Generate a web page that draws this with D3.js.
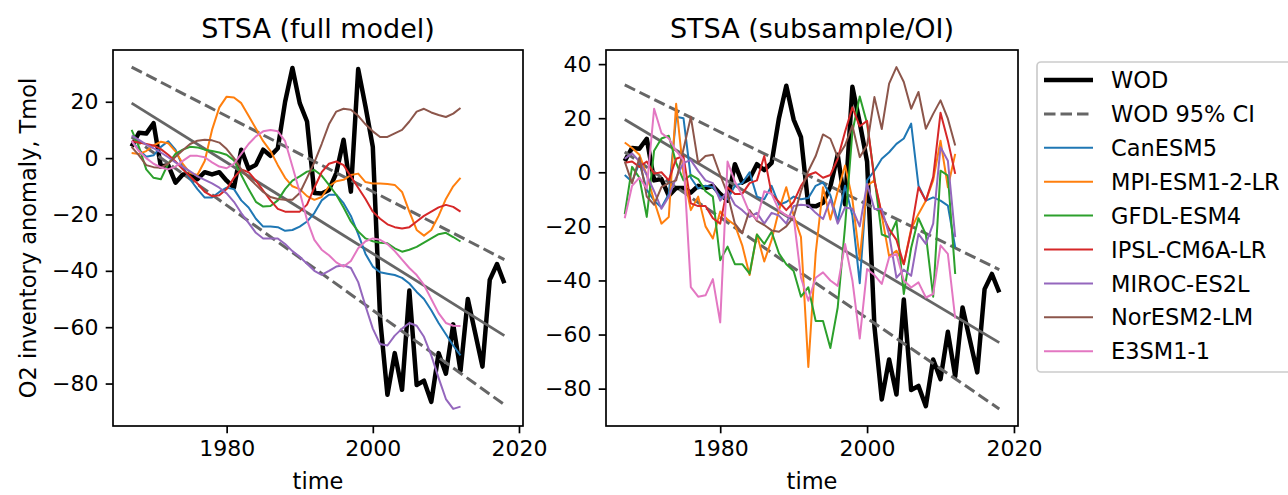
<!DOCTYPE html>
<html>
<head>
<meta charset="utf-8">
<script src="https://cdn.jsdelivr.net/npm/d3@7"></script>
<style>
  body { margin: 0; background: #fff; }
  text { font-family: "DejaVu Sans", sans-serif; fill: #000; }
</style>
</head>
<body>
<svg id="chart" width="1288" height="495"></svg>
<script>
// ---- data ----
const wodYears = d3.range(1967, 2019);
const modelYears = d3.range(1967, 2013);

const wod = [4.1, 9, 8.7, 12.4, -3, -2.5, -8.7, -5.8, -5.8, -7.5,
  -5, -5.8, -5, -8, -10.5, 3, -3.8, -2.4, 3, 0.8,
  3.5, 20, 32, 19.5, 13, -12.4, -12.6, -11.3, -5.3, 6.5,
  -11.9, 31.6, 18.3, 4, -57, -84, -69.2, -82.2, -47, -80.5,
  -79, -86.5, -69.2, -76.5, -59, -75.5, -50, -62, -74, -43.2,
  -37.6, -44.4];

// linear trend and its 95% CI (end points)
const trendYears = [1967, 2018];
const trend = [19.5, -63];
const ciUpper = [32.3, -36];
const ciLower = [7.5, -87.5];

const modelNames = ["CanESM5", "MPI-ESM1-2-LR", "GFDL-ESM4", "IPSL-CM6A-LR", "MIROC-ES2L", "NorESM2-LM", "E3SM1-1"];
const modelColors = ["#1f77b4", "#ff7f0e", "#2ca02c", "#d62728", "#9467bd", "#8c564b", "#e377c2"];

// full model
const fullCanESM5 = [6, 3, 0.5, 1, 4, 6, 3, -3, -7.5, -11, -14, -14, -12, -10.5, -11, -15, -17.5, -21.5, -24.3, -24.3,
  -24.5, -25.8, -25.5, -24.3, -22.5, -19.5, -15, -13, -13, -16, -20.5, -27, -34, -38.5, -40.5, -41, -41.5, -42.5, -44.5, -47.5,
  -50, -54, -58.5, -62.5, -66.5, -70];
const fullMPI = [1.8, 1.5, 2.5, 4.5, 5.8, 5.3, 2.4, -2, -5.3, -6, -1, 10, 18, 21.8, 21.5, 19.5, 15, 10.5, 6, 2.5,
  -2.5, -7, -10, -11, -13.5, -14.8, -13.8, -10, -8.2, -7.7, -6, -5.5, -8.5, -9, -9, -9.2, -9.5, -12, -19, -25.5,
  -27.5, -25.5, -20.5, -14.5, -10, -7];
const fullGFDL = [10, 4, -4, -7, -7.5, -2, 1.5, 3, 4, 3.8, 3, 2.5, 2, 1.2, -0.8, -6, -11, -15.5, -17.2, -17,
  -15, -11, -8, -6.5, -4.8, -4.2, -6.2, -9.5, -13, -17.5, -22.5, -26, -28.5, -29.5, -30, -30.2, -32, -33.2, -32.5, -31.5,
  -30, -28.5, -27, -26.5, -28, -29.6];
const fullIPSL = [6, 5.5, 5, 4.5, 3.2, 1.2, -1.2, -4, -6.5, -9, -12, -13.5, -13.2, -11, -7, -4, -5, -8, -11.5, -15,
  -18, -19, -19, -19, -16.5, -10.5, -5, -2, -1.2, -2.5, -6.5, -10.5, -14.5, -19, -21.5, -23.5, -24.5, -25, -24.5, -22.5,
  -20.5, -19, -17.5, -16.6, -17.3, -19];
const fullMIROC = [8, 6.5, 4.8, 3.5, 2, 0.3, -1.5, -3, -4.7, -6.5, -7.7, -9, -10.5, -12.5, -15.5, -19.5, -23, -26.5, -28.5, -28.5,
  -28.5, -30.5, -33, -35, -37.5, -40, -41.4, -40, -38.5, -38, -39, -44, -52.5, -60.5, -66, -66.5, -63, -60.5, -58.5, -59.5,
  -63.4, -70, -78, -85.5, -89, -88.2];
const fullNorESM = [4, 1, -2.5, -3.2, -3.4, -2, 0.5, 2.8, 5, 6.2, 6.5, 6.3, 5.5, 3.2, 0, -4, -7, -9.5, -12, -13.8,
  -14.5, -14.8, -14.8, -12.4, -7, -1.5, 5, 12, 16.5, 17.5, 17.2, 15, 12, 9.5, 7.5, 7.5, 8.8, 10, 13, 16.5,
  17.5, 16.2, 15.3, 14.6, 15.8, 17.8];
const fullE3SM = [6, 2.5, 0, -2, -3.3, -4, -3, -1, 0.8, 0.8, 0.3, -1.5, -3, -3.6, -2, 1.5, 5, 7.7, 9.5, 10,
  9.5, 6, -3, -12, -22, -29, -32.5, -34.5, -37, -38.5, -36.5, -32, -29.5, -28.5, -29, -30.5, -33, -36, -39, -41.5,
  -45, -50, -55, -58.5, -59.5, -59.6];

// subsample / OI
const subCanESM5 = [-1, -3.5, 3.5, -6.5, -10.5, -13, -8, 20.5, 20, -2, -6, -5, -5.5, -9, -10, -5, -4, 0, -9, -10,
  -5, -12, -11, -9, -10, -9.5, -5, -3.7, -8.5, -18, -5, -16, -41, -3, 0.6, 5, 7.4, 10.5, 12.5, 18,
  -5, -10.5, -9.3, -10.5, -12.3, -27.8];
const subMPI = [11, 9, 6.5, -1, -10.5, -19, -16.5, 25.3, -0.5, -14, -9, -20, -24.5, -14.5, -17.5, -19.5, -27, -38, -23, -33,
  -25, -14, -5.5, -16, -24, -72, -30, -5.5, -17.5, -7, 2.5, -10, -32, -5, -3, -16, -31, -29, -34, -21,
  -15.4, -10.5, -3, 11.7, -5.5, 6.8];
const subGFDL = [-15.5, 2, -2, -16.5, 8, 12.5, 13.5, 3.5, -3, -1, -2.5, -7, -9, -32.5, -27.5, -34, -34, -37.5, -23, -26.5,
  -22, -30, -34, -36.5, -46, -42.5, -55, -55, -65, -50, -20, 15, 28, 18, -2, -23, -24, -18, -45, -28,
  -17, -23, -46, 0.6, -1.2, -37.6];
const subIPSL = [3.5, 4, 2, 4, -0.5, 0, -3, 5, 6, -11.5, -12.5, -12.5, -17, -19, -5.5, -8, -8, -4, -3, 6,
  -8, -11, -14, -11, -5, -1, 0, -2, -1, 5, 15, 24, 17, 19, -3, -15.4, -21, -25, -34, -21.6,
  -5.5, -10.5, -1.8, 22, 11.7, -0.6];
const subMIROC = [5, 7, 4, -1, -7, -13.5, -9, -2, 3.5, 4.5, 0.5, -3, -4, -10.5, -7, -12, -14, -16.5, -15, -19,
  -15, -16, -19, -12.5, -12, -12.3, -15, -17.3, -10, -19, -13, -13.5, -20, -4.3, -13.6, -13.6, -23, -39, -36, -38.3,
  -22.8, -26.5, -19, 9.3, 4.3, -24];
const subNorESM = [4, -4, 5.5, -9, -12, -5.5, -4, -3, 8.5, 20.5, 3.5, 6, 6.5, -1, -8, -19, -22.5, -14, -18, -19.5,
  -21.5, -22, -20, -16.5, -7, 0.5, 6, 14, 12.4, 5.6, 10, 17.3, 5.6, 10, 27.8, 16, 32.8, 38.9, 33.4, 23.5,
  29.7, 16.1, 21.6, 26.6, 19.8, 9.9];
const subE3SM = [-17, -5, -2, -6, 23.5, 14.5, 12.5, 8, 4.5, -42.5, -46, -45.5, -39.5, -55.5, 4, -3.5, -8.5, -15, -17.5, -7,
  -8, -14, -16, -16.5, -39, -47.5, -39, -37, -40, -42, -26.5, -40, -61.5, -35.8, -38, -41.3, -31.5, -30.2, -40, -42.6,
  -40.7, -46.3, -45, -27, -30.2, -54];

const xTicks = [1980, 2000, 2020];
const yTicksFull = [-80, -60, -40, -20, 0, 20];
const yTicksSub = [-80, -60, -40, -20, 0, 20, 40];

// ---- layout ----
const plotTop = 50, plotBottom = 426;
const panels = [
  { title: "STSA (full model)", left: 113, right: 523, yTicks: yTicksFull,
    series: [fullCanESM5, fullMPI, fullGFDL, fullIPSL, fullMIROC, fullNorESM, fullE3SM] },
  { title: "STSA (subsample/OI)", left: 606, right: 1018, yTicks: yTicksSub,
    series: [subCanESM5, subMPI, subGFDL, subIPSL, subMIROC, subNorESM, subE3SM] }
];

const svg = d3.select("#chart");

// matplotlib style 5% margins
function padded(ext) {
  const p = (ext[1] - ext[0]) * 0.05;
  return [ext[0] - p, ext[1] + p];
}

const xDomain = padded(d3.extent(wodYears));
const fmt = d3.format("d");

panels.forEach((p, pi) => {
  const allVals = wod.concat(trend, ciUpper, ciLower, ...p.series);
  const x = d3.scaleLinear().domain(xDomain).range([p.left, p.right]);
  const y = d3.scaleLinear().domain(padded(d3.extent(allVals))).range([plotBottom, plotTop]);

  const line = d3.line().x(d => x(d[0])).y(d => y(d[1]));

  svg.append("clipPath").attr("id", "clip" + pi)
    .append("rect")
    .attr("x", p.left).attr("y", plotTop)
    .attr("width", p.right - p.left).attr("height", plotBottom - plotTop);

  const g = svg.append("g").attr("clip-path", `url(#clip${pi})`);

  // WOD observations
  g.append("path")
    .attr("d", line(wodYears.map((yr, i) => [yr, wod[i]])))
    .attr("fill", "none").attr("stroke", "#000")
    .attr("stroke-width", 4.5).attr("stroke-linejoin", "round");

  // CI lines
  [ciUpper, ciLower].forEach(ci => {
    g.append("path")
      .attr("d", line(trendYears.map((yr, i) => [yr, ci[i]])))
      .attr("fill", "none").attr("stroke", "#666")
      .attr("stroke-width", 3).attr("stroke-dasharray", "11.5,5");
  });

  // trend
  g.append("path")
    .attr("d", line(trendYears.map((yr, i) => [yr, trend[i]])))
    .attr("fill", "none").attr("stroke", "#666")
    .attr("stroke-width", 2.8);

  // models
  p.series.forEach((s, k) => {
    g.append("path")
      .attr("d", line(modelYears.map((yr, i) => [yr, s[i]])))
      .attr("fill", "none").attr("stroke", modelColors[k])
      .attr("stroke-width", 2).attr("stroke-linejoin", "round");
  });

  // axes
  const xAxis = svg.append("g")
    .attr("transform", `translate(0,${plotBottom})`)
    .call(d3.axisBottom(x).tickValues(xTicks).tickFormat(fmt)
      .tickSize(7.3).tickPadding(7.3).tickSizeOuter(0));
  const yAxis = svg.append("g")
    .attr("transform", `translate(${p.left},0)`)
    .call(d3.axisLeft(y).tickValues(p.yTicks).tickFormat(fmt)
      .tickSize(7.3).tickPadding(7.3).tickSizeOuter(0));
  [xAxis, yAxis].forEach(a => {
    a.select(".domain").remove();
    a.selectAll(".tick line").attr("stroke", "#000").attr("stroke-width", 1.7);
    a.selectAll(".tick text").attr("font-size", 22).attr("font-family", "DejaVu Sans").attr("fill", "#000");
  });

  // frame
  svg.append("rect")
    .attr("x", p.left).attr("y", plotTop)
    .attr("width", p.right - p.left).attr("height", plotBottom - plotTop)
    .attr("fill", "none").attr("stroke", "#000").attr("stroke-width", 1.7);

  // title and x label
  svg.append("text")
    .attr("x", (p.left + p.right) / 2).attr("y", 38)
    .attr("text-anchor", "middle").attr("font-size", 27)
    .text(p.title);
  svg.append("text")
    .attr("x", (p.left + p.right) / 2).attr("y", 489)
    .attr("text-anchor", "middle").attr("font-size", 22.5)
    .text("time");
});

// y label
svg.append("text")
  .attr("transform", `translate(36,${(plotTop + plotBottom) / 2}) rotate(-90)`)
  .attr("text-anchor", "middle").attr("font-size", 22.5)
  .text("O2 inventory anomaly, Tmol");

// ---- legend ----
const legendItems = [
  { name: "WOD", color: "#000", width: 4.5, dash: null },
  { name: "WOD 95% CI", color: "#666", width: 3, dash: "11.5,5" }
].concat(modelNames.map((n, i) => ({ name: n, color: modelColors[i], width: 2, dash: null })));

const lg = svg.append("g");
lg.append("rect")
  .attr("x", 1037).attr("y", 62).attr("width", 270).attr("height", 310)
  .attr("rx", 4).attr("fill", "#fff").attr("fill-opacity", 0.8)
  .attr("stroke", "#ccc").attr("stroke-width", 1.7);

legendItems.forEach((d, i) => {
  const yy = 80 + i * 33.9;
  lg.append("line")
    .attr("x1", 1044).attr("x2", 1093).attr("y1", yy).attr("y2", yy)
    .attr("stroke", d.color).attr("stroke-width", d.width)
    .attr("stroke-dasharray", d.dash);
  lg.append("text")
    .attr("x", 1111).attr("y", yy).attr("dy", "0.36em")
    .attr("font-size", 22.5)
    .text(d.name);
});
</script>
</body>
</html>
